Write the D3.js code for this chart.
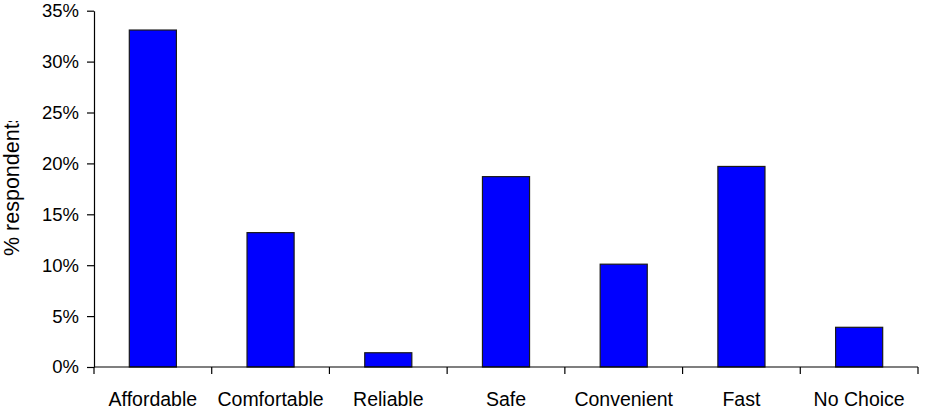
<!DOCTYPE html>
<html>
<head>
<meta charset="utf-8">
<script src="https://cdn.jsdelivr.net/npm/d3@7"></script>
<style>
  html, body { margin: 0; padding: 0; background: #fff; }
  svg { display: block; font-family: "Liberation Sans", Arial, sans-serif; }
</style>
</head>
<body>
<svg id="chart" width="928" height="417"></svg>
<script>
// Reasons given by respondents (share of respondents, %)
const categories = ["Affordable", "Comfortable", "Reliable", "Safe", "Convenient", "Fast", "No Choice"];
const values = [33.1, 13.2, 1.4, 18.7, 10.1, 19.7, 3.9];
const yTicks = [0, 5, 10, 15, 20, 25, 30, 35];
const yTitle = "% respondents";

const svg = d3.select("#chart");
const plot = { left: 94, right: 918, top: 10.7, bottom: 367 };

const x = d3.scaleBand()
  .domain(categories)
  .range([plot.left, plot.right])
  .padding(0);

const y = d3.scaleLinear()
  .domain([0, 35])
  .range([plot.bottom, plot.top]);

const barWidth = x.bandwidth() * 0.4;

// Bars
svg.append("g")
  .selectAll("rect")
  .data(categories.map((c, i) => ({ c, v: values[i] })))
  .join("rect")
  .attr("x", d => x(d.c) + (x.bandwidth() - barWidth) / 2)
  .attr("y", d => y(d.v))
  .attr("width", barWidth)
  .attr("height", d => y(0) - y(d.v))
  .attr("fill", "#0000ff")
  .attr("stroke", "#1a1a1a")
  .attr("stroke-width", 1.2);

// Y axis
const yAxis = svg.append("g")
  .attr("transform", `translate(${plot.left},0)`)
  .call(d3.axisLeft(y).tickValues(yTicks).tickFormat(d => d + "%").tickSize(7).tickSizeOuter(0).tickPadding(8));
yAxis.select(".domain").attr("stroke", "#000").attr("stroke-width", 1.2);
yAxis.selectAll(".tick line").attr("stroke", "#000").attr("stroke-width", 1.2);
yAxis.selectAll(".tick text")
  .attr("font-size", 18.5)
  .attr("fill", "#000");

// X axis: ticks mark category boundaries, labels centred under each band
const xAxis = svg.append("g")
  .attr("transform", `translate(0,${plot.bottom})`);
xAxis.append("line")
  .attr("x1", plot.left).attr("x2", plot.right)
  .attr("stroke", "#000").attr("stroke-width", 1.2);
const bounds = categories.map(c => x(c)).concat([x.range()[1]]);
xAxis.selectAll("line.bound")
  .data(bounds)
  .join("line")
  .attr("class", "bound")
  .attr("x1", d => d).attr("x2", d => d)
  .attr("y1", 0).attr("y2", 7)
  .attr("stroke", "#000").attr("stroke-width", 1.2);
xAxis.selectAll("text")
  .data(categories)
  .join("text")
  .attr("x", d => x(d) + x.bandwidth() / 2)
  .attr("y", 39)
  .attr("text-anchor", "middle")
  .attr("font-size", 19.5)
  .attr("fill", "#000")
  .text(d => d);

// Y axis title, clipped at the top of its box
svg.append("clipPath").attr("id", "ytitle-clip")
  .append("rect").attr("x", 0).attr("y", 121).attr("width", 40).attr("height", 200);
svg.append("g")
  .attr("clip-path", "url(#ytitle-clip)")
  .append("text")
  .attr("transform", "translate(19,256) rotate(-90)")
  .attr("text-anchor", "start")
  .attr("font-size", 21.5)
  .attr("fill", "#000")
  .text(yTitle);
</script>
</body>
</html>
